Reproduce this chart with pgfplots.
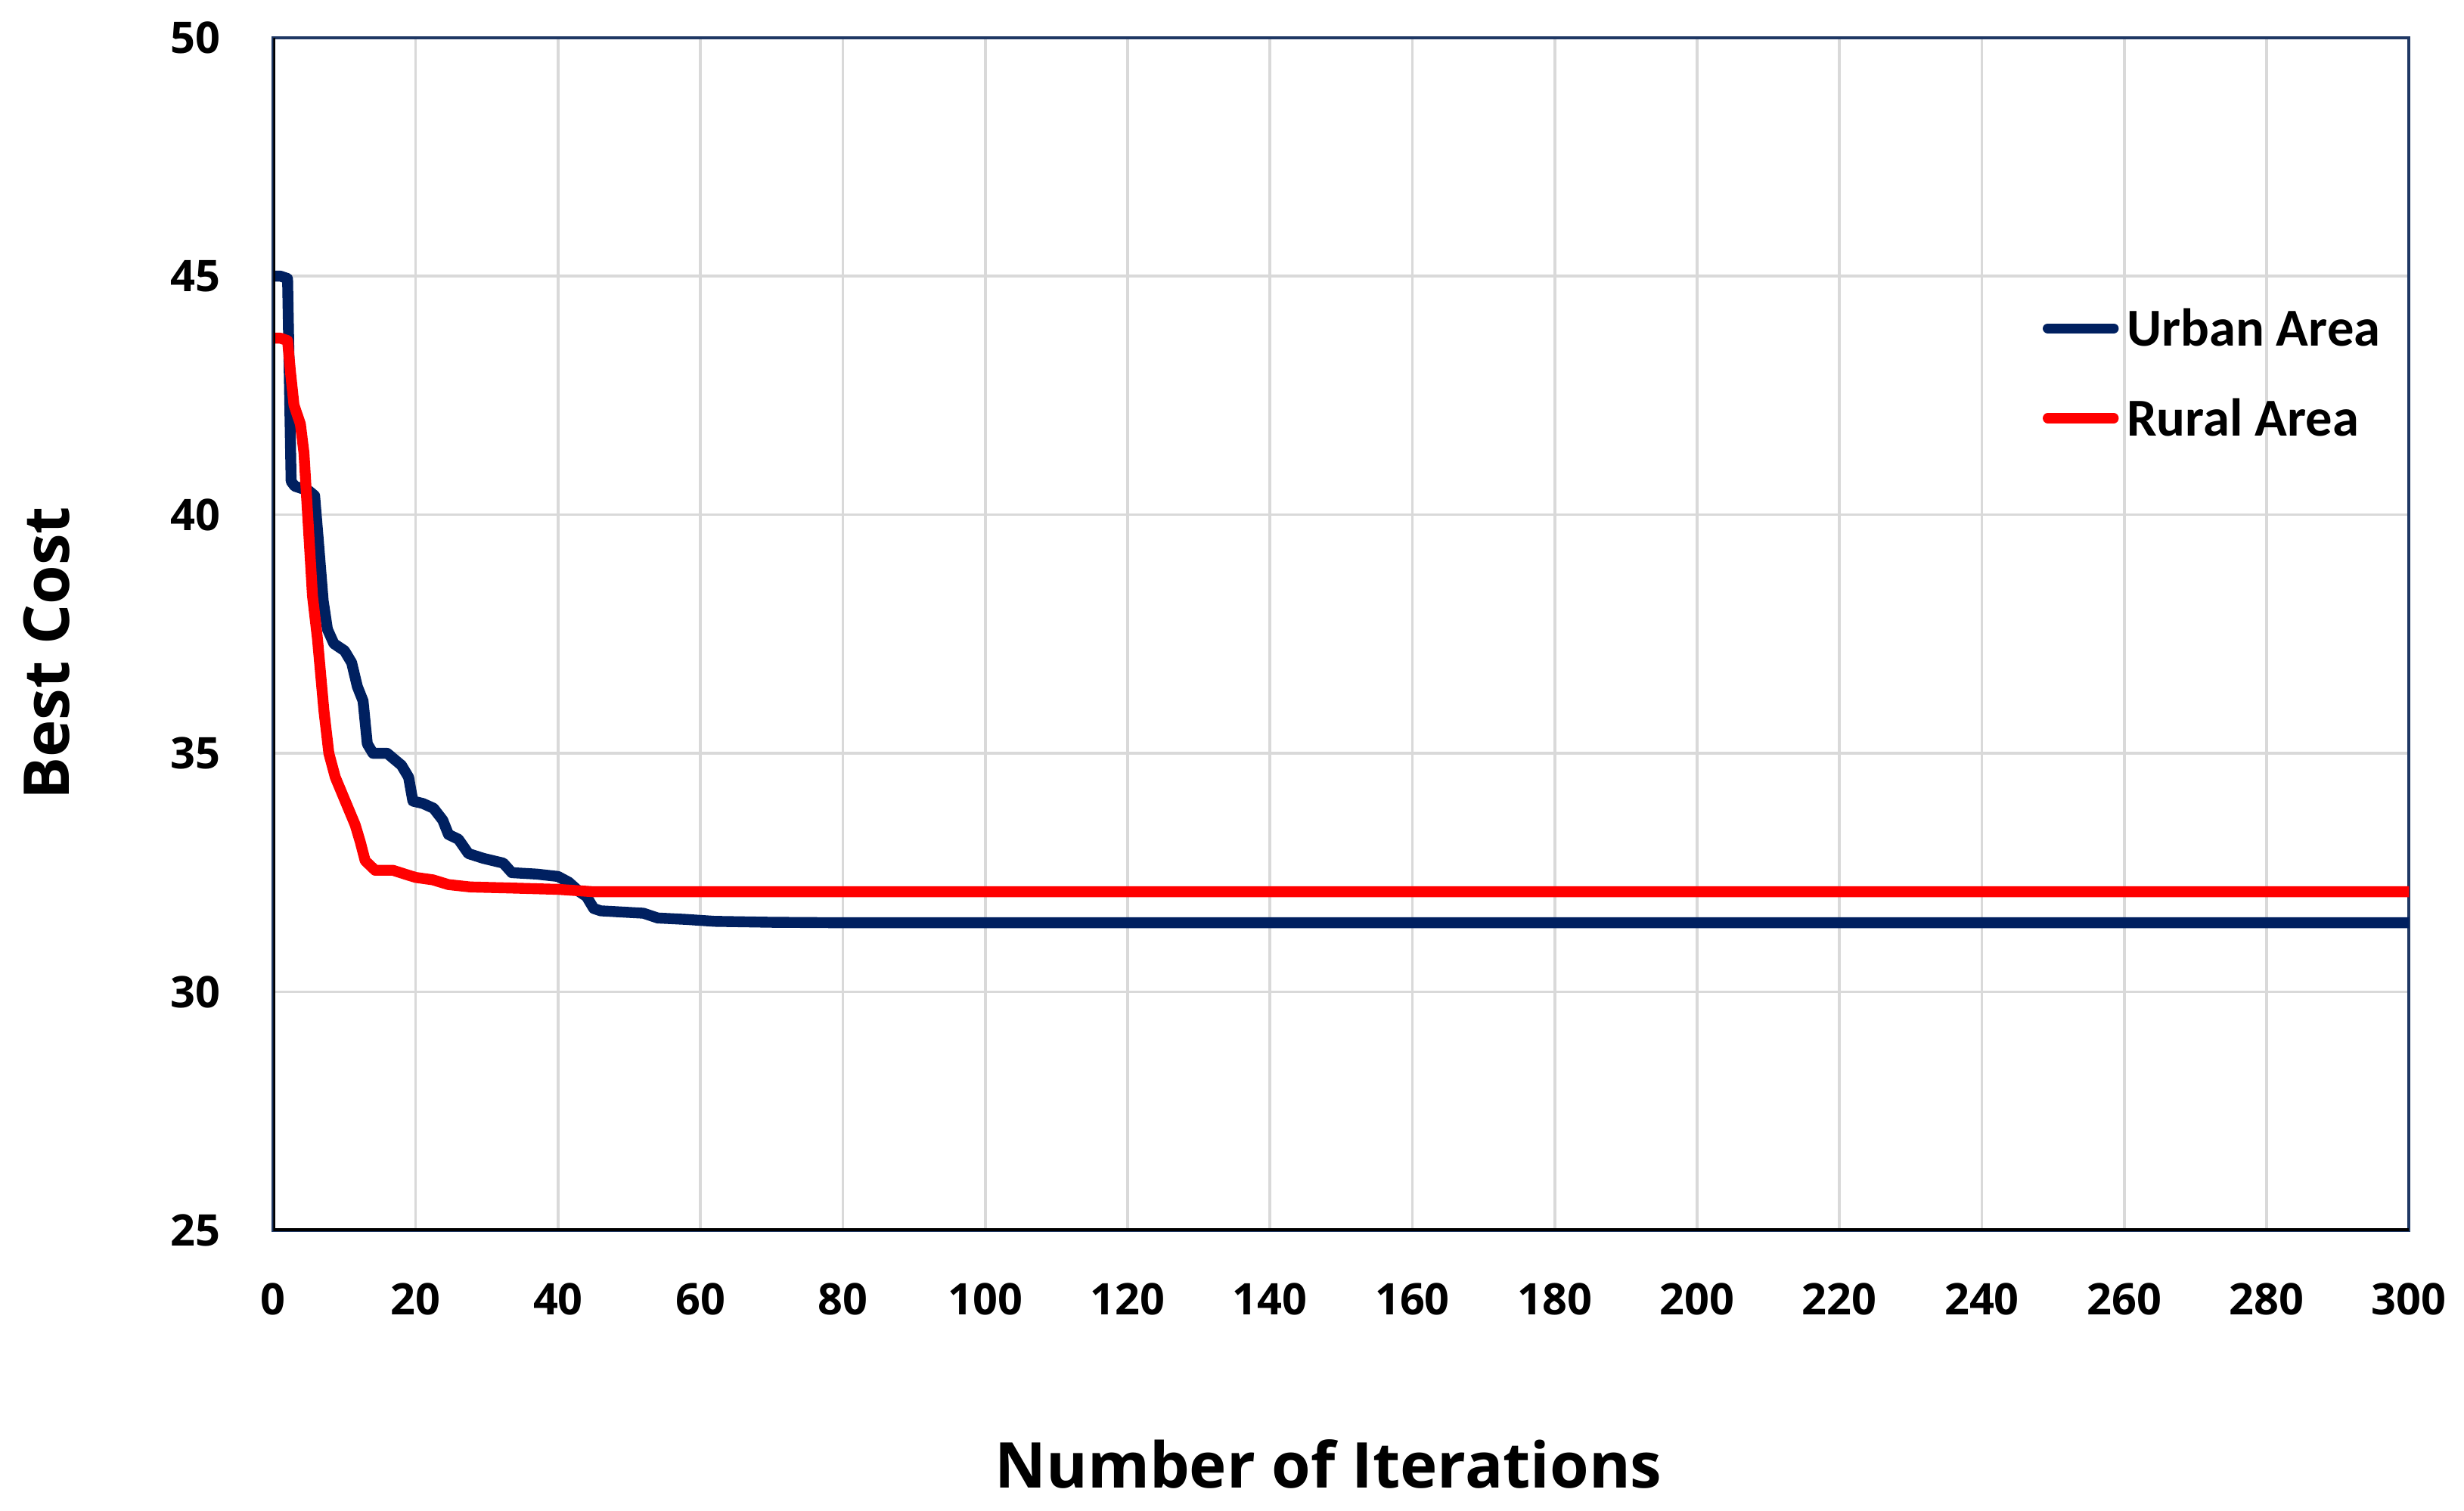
\documentclass[border=0pt]{standalone}
\usepackage{fontspec}
\setmainfont{Open Sans}
\newfontfamily\legfont{Carlito}
\usepackage{pgfplots}
\pgfplotsset{compat=1.18}
\definecolor{urban}{HTML}{002060}
\definecolor{rural}{HTML}{FF0000}
\definecolor{gridc}{HTML}{D9D9D9}
\definecolor{frame}{HTML}{1F3864}
\begin{document}
\begin{tikzpicture}
\useasboundingbox (-50.2pt,-51.5pt) rectangle (402.3pt,226pt);
\begin{axis}[
  scale only axis,
  width=392.2pt, height=219.1pt,
  xmin=0, xmax=300, ymin=25, ymax=50,
  xtick={0,20,...,300}, ytick={25,30,...,50},
  major tick length=0pt,
  grid=major,
  major grid style={gridc, line width=0.5pt},
  axis line style={frame, line width=0.6pt},
  /pgf/number format/assume math mode=true,
  tick label style={font=\bfseries\fontsize{8}{9}\selectfont},
  xticklabel style={anchor=center, inner sep=0pt, yshift=-12.6pt},
  yticklabel style={anchor=east, inner sep=0pt, xshift=-9.5pt},
  xlabel={Number of Iterations},
  ylabel={Best Cost},
  label style={font=\bfseries\fontsize{11.6}{13.5}\selectfont},
  xlabel style={at={(axis description cs:0.494,-0.196)}, anchor=center},
  ylabel style={at={(axis description cs:-0.106,0.484)}, anchor=center},
  legend cell align=left,
  legend style={draw=none, fill=none, font=\legfont\bfseries\fontsize{9.8}{11}\selectfont,
    at={(rel axis cs:0.8280,0.7186)}, anchor=west, inner sep=0pt,
    nodes={inner sep=0pt, text height=6.5pt, text depth=0pt},
    row sep=10pt, column sep=1.5pt},
  legend image code/.code={\draw[#1, line width=1.85pt, line cap=round] (0pt,0pt) -- (12.1pt,0pt);},
]
\addplot[urban, line width=2pt, line join=round] coordinates {
(0,45.0)(1,45.0)(2,44.95)(2.5,40.7)(3,40.6)(5,40.5)(5.8,40.4)(6.3,39.5)(7,38.2)(7.6,37.6)
(8.5,37.3)(10,37.15)(11,36.9)(11.8,36.4)(12.6,36.1)(13.2,35.2)(14,35.0)(16,35.0)(18,34.75)
(19,34.5)(19.6,34.0)(21,33.95)(22.5,33.85)(23.8,33.6)(24.6,33.3)(26,33.2)(27.4,32.9)(29.5,32.8)
(32.3,32.7)(33.5,32.5)(37,32.47)(40,32.42)(41.5,32.3)(43,32.1)(44,32.0)(45,31.75)(46,31.7)
(52,31.65)(54,31.55)(58,31.52)(62,31.48)(70,31.46)(80,31.45)(300,31.45)
};
\addlegendentry{Urban Area}
\addplot[rural, line width=2pt, line join=round] coordinates {
(0,43.7)(1,43.7)(2,43.65)(2.4,43.0)(2.9,42.3)(3.8,41.9)(4.3,41.3)(4.9,39.8)(5.5,38.3)(6.2,37.4)
(7.1,35.9)(7.8,35.0)(8.7,34.5)(10.1,34.0)(11.5,33.5)(12.2,33.15)(12.9,32.75)(14.3,32.55)
(16.8,32.55)(18.9,32.45)(20,32.4)(22.4,32.35)(24.6,32.25)(27.7,32.2)(33,32.18)(40,32.15)
(45,32.1)(300,32.1)
};
\addlegendentry{Rural Area}
\draw[black, line width=0.8pt] (rel axis cs:0,1) -- (rel axis cs:0,0) -- (rel axis cs:1,0);
\end{axis}
\end{tikzpicture}
\end{document}
